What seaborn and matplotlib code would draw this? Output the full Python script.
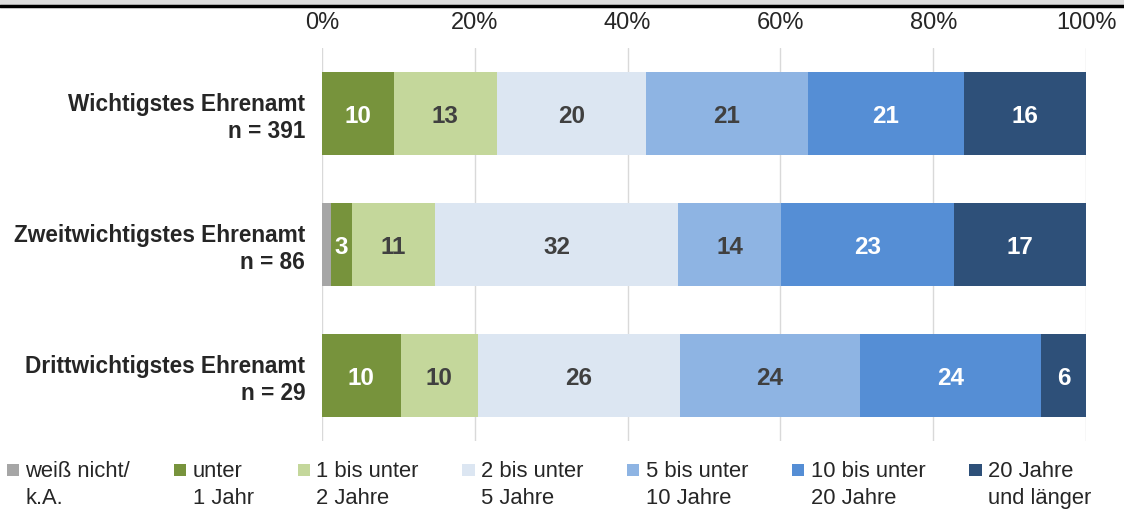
import pandas as pd
import matplotlib.pyplot as plt
import seaborn as sns
from matplotlib.patches import Patch, Rectangle
from matplotlib.legend_handler import HandlerPatch
from matplotlib.lines import Line2D

# --- data (percent of respondents) ---
rows = [
    "Wichtigstes Ehrenamt\nn = 391",
    "Zweitwichtigstes Ehrenamt\nn = 86",
    "Drittwichtigstes Ehrenamt\nn = 29",
]
series_names = [
    "weiß nicht/\nk.A.",
    "unter\n1 Jahr",
    "1 bis unter\n2 Jahre",
    "2 bis unter\n5 Jahre",
    "5 bis unter\n10 Jahre",
    "10 bis unter\n20 Jahre",
    "20 Jahre\nund länger",
]
weiss_nicht = [0.0, 1.2, 0.0]
unter_1 = [9.4, 2.7, 10.3]
bis_2 = [13.5, 10.9, 10.1]
bis_5 = [19.5, 31.8, 26.4]
bis_10 = [21.2, 13.5, 23.6]
bis_20 = [20.4, 22.6, 23.7]
laenger = [16.0, 17.3, 5.9]

# labels as printed in the bars ("" = no label)
lbl_weiss_nicht = ["", "", ""]
lbl_unter_1 = ["10", "3", "10"]
lbl_bis_2 = ["13", "11", "10"]
lbl_bis_5 = ["20", "32", "26"]
lbl_bis_10 = ["21", "14", "24"]
lbl_bis_20 = ["21", "23", "24"]
lbl_laenger = ["16", "17", "6"]

colors = ["#a6a6a6", "#77933c", "#c4d79b", "#dce6f2", "#8eb4e3", "#558ed5", "#2e5079"]
text_colors = ["white", "white", "#404040", "#404040", "#404040", "white", "white"]

values = [weiss_nicht, unter_1, bis_2, bis_5, bis_10, bis_20, laenger]
labels = [lbl_weiss_nicht, lbl_unter_1, lbl_bis_2, lbl_bis_5, lbl_bis_10, lbl_bis_20, lbl_laenger]

# long table with cumulative ends per segment
records = []
for s, (name, vals) in enumerate(zip(series_names, values)):
    for r, v in enumerate(vals):
        records.append({"row": rows[r], "series": name, "s": s, "value": v})
df = pd.DataFrame(records)
df["end"] = df.groupby("row")["value"].cumsum()
df["start"] = df["end"] - df["value"]

sns.set_style("white")
plt.rcParams["font.family"] = ["Liberation Sans", "DejaVu Sans"]

fig = plt.figure(figsize=(11.24, 5.09), dpi=100)
ax = fig.add_axes([322 / 1124, 1 - 441 / 509, 764 / 1124, 393 / 509])

# draw from the right-most segment back, each layer covers the earlier part
for s in reversed(range(len(series_names))):
    sub = df[df["s"] == s]
    sns.barplot(data=sub, x="end", y="row", order=rows, color=colors[s],
                saturation=1, width=0.64, orient="h", errorbar=None,
                linewidth=0, ax=ax)

for s in range(len(series_names)):
    sub = df[df["s"] == s].reset_index(drop=True)
    for r, rec in sub.iterrows():
        txt = labels[s][r]
        if txt:
            ax.text((rec["start"] + rec["end"]) / 2, r + 0.02, txt, ha="center", va="center",
                    fontsize=17.5, fontweight="bold", color=text_colors[s])

ax.set_xlim(0, 100)
ax.set_xticks([0, 20, 40, 60, 80, 100])
ax.set_xticklabels([f"{t}%" for t in [0, 20, 40, 60, 80, 100]])
ax.xaxis.tick_top()
ax.tick_params(axis="x", length=0, pad=10, labelsize=17)
ax.tick_params(axis="y", length=0, pad=12)
for t in ax.get_yticklabels():
    t.set_fontsize(16.3)
    t.set_fontweight("bold")
    t.set_ha("right")
ax.set_xlabel("")
ax.set_ylabel("")
ax.grid(axis="x", color="#d9d9d9", linewidth=1.0)
ax.set_axisbelow(True)
sns.despine(ax=ax, left=True, bottom=True, top=True, right=True)


# legend: small squares aligned with the first text line
def top_square(legend, orig_handle, xdescent, ydescent, width, height, fontsize):
    size = 0.55 * fontsize
    return Rectangle((-xdescent, -ydescent + 0.72 * fontsize), size, size)


handles = [Patch(facecolor=c, edgecolor="none") for c in colors]
leg = fig.legend(handles, series_names, loc="upper left", bbox_to_anchor=(0.006, 1 - 461 / 509),
                 ncol=7, frameon=False, fontsize=15.8, handlelength=0.6, handleheight=0.6,
                 handletextpad=0.25, columnspacing=2.0, borderpad=0, borderaxespad=0,
                 labelspacing=0.1, handler_map={Patch: HandlerPatch(patch_func=top_square)})
for t in leg.get_texts():
    t.set_linespacing(1.35)

# page strip and rule at the very top
fig.add_artist(Rectangle((0, 1 - 5 / 509), 1, 5 / 509, transform=fig.transFigure,
                         facecolor="#dedede", edgecolor="none"))
fig.add_artist(Line2D([0, 1], [1 - 6 / 509, 1 - 6 / 509], transform=fig.transFigure,
                      color="black", linewidth=2.5))

fig.savefig("out.png", dpi=100)
